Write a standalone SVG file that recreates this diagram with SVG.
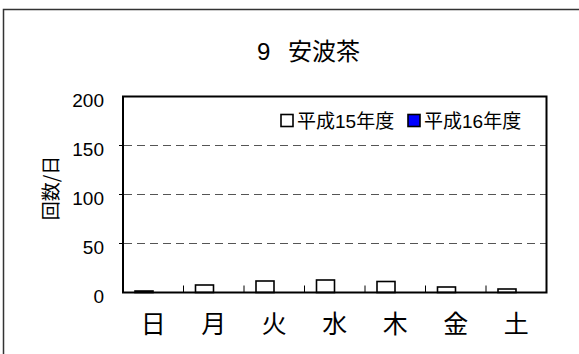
<svg xmlns="http://www.w3.org/2000/svg" width="579" height="354" viewBox="0 0 579 354">
<style>
text{font-family:"Liberation Sans","Noto Sans CJK JP",sans-serif;fill:#000}
.cj{font-family:"Noto Sans CJK JP","Liberation Sans",sans-serif}
.yl{font-size:19px;text-anchor:end}
.xl{font-size:25px;text-anchor:middle}
.grid{stroke:#555;stroke-width:1;stroke-dasharray:8 5;fill:none}
.bar{fill:#fff;stroke:#000;stroke-width:1.6}
.ax{stroke:#000;stroke-width:2;fill:none}
.tk{stroke:#000;stroke-width:1}
</style>
<rect width="579" height="354" fill="#fff"/>
<g id="frame"><rect x="3.5" y="9.5" width="600" height="400" fill="none" stroke="#333" stroke-width="1.5"/></g>
<g id="title"><text x="257" y="60" font-size="24">9 <tspan x="288" class="cj">安波茶</tspan></text></g>
<g id="gridlines">
<line class="grid" x1="124" y1="145.5" x2="546" y2="145.5"/>
<line class="grid" x1="124" y1="194.5" x2="546" y2="194.5"/>
<line class="grid" x1="124" y1="243.5" x2="546" y2="243.5"/>
</g>
<g id="bars">
<rect class="bar" x="135" y="291" width="18" height="1.5"/>
<rect class="bar" x="195.5" y="285" width="18" height="7.5"/>
<rect class="bar" x="256" y="281" width="18" height="11.5"/>
<rect class="bar" x="316.5" y="280" width="18" height="12.5"/>
<rect class="bar" x="377" y="281.5" width="18" height="11"/>
<rect class="bar" x="437.5" y="287" width="18" height="5.5"/>
<rect class="bar" x="498" y="289" width="18" height="3.5"/>
</g>
<g id="axes">
<rect class="ax" x="123" y="96.5" width="423.5" height="196"/>
<line class="tk" x1="183.5" y1="285.5" x2="183.5" y2="292.5"/>
<line class="tk" x1="244" y1="285.5" x2="244" y2="292.5"/>
<line class="tk" x1="304.5" y1="285.5" x2="304.5" y2="292.5"/>
<line class="tk" x1="365" y1="285.5" x2="365" y2="292.5"/>
<line class="tk" x1="425.5" y1="285.5" x2="425.5" y2="292.5"/>
<line class="tk" x1="486" y1="285.5" x2="486" y2="292.5"/>
<line class="tk" x1="119" y1="145.5" x2="123" y2="145.5"/>
<line class="tk" x1="119" y1="194.5" x2="123" y2="194.5"/>
<line class="tk" x1="119" y1="243.5" x2="123" y2="243.5"/>
</g>
<g id="y-labels">
<text class="yl" x="104" y="106.5">200</text>
<text class="yl" x="104" y="155.5">150</text>
<text class="yl" x="104" y="204.5">100</text>
<text class="yl" x="104" y="253.5">50</text>
<text class="yl" x="104" y="302.5">0</text>
</g>
<g id="y-title"><text class="cj" font-size="19" text-anchor="middle" transform="translate(57.5,188) rotate(-90)">回数/日</text></g>
<g id="x-labels">
<text class="xl cj" x="153.25" y="333">日</text>
<text class="xl cj" x="213.75" y="333">月</text>
<text class="xl cj" x="274.25" y="333">火</text>
<text class="xl cj" x="334.75" y="333">水</text>
<text class="xl cj" x="395.25" y="333">木</text>
<text class="xl cj" x="455.75" y="333">金</text>
<text class="xl cj" x="516.25" y="333">土</text>
</g>
<g id="legend">
<rect x="281" y="114.5" width="12" height="12" fill="#fff" stroke="#000" stroke-width="1.6"/>
<text x="297" y="128" font-size="19">平成15年度</text>
<rect x="408" y="114.5" width="12" height="12" fill="#0000ff" stroke="#000" stroke-width="1.6"/>
<text x="424" y="128" font-size="19">平成16年度</text>
</g>
</svg>
